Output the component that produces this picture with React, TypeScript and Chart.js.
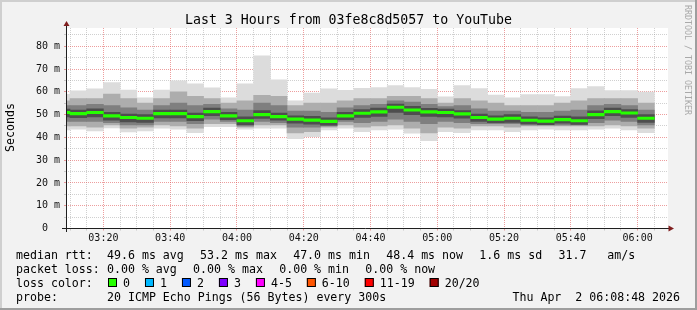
import { useEffect, useRef } from 'react';
import { Chart, registerables } from 'chart.js';

Chart.register(...registerables);

// ---------------- data ----------------
const TITLE = 'Last 3 Hours from 03fe8c8d5057 to YouTube';
const Y_LABEL = 'Seconds';
const WATERMARK = 'RRDTOOL / TOBI OETIKER';
const WINDOW_END = '06:08:48';
const WINDOW_MINUTES = 180;
const STEP_MINUTES = 5;

const slotStart = [
  '03:05', '03:10', '03:15', '03:20', '03:25', '03:30', '03:35', '03:40', '03:45',
  '03:50', '03:55', '04:00', '04:05', '04:10', '04:15', '04:20', '04:25', '04:30',
  '04:35', '04:40', '04:45', '04:50', '04:55', '05:00', '05:05', '05:10', '05:15',
  '05:20', '05:25', '05:30', '05:35', '05:40', '05:45', '05:50', '05:55', '06:00',
];

// round-trip times in ms, per 5-minute slot
const rttMax = [58.9, 60.4, 61.3, 64.0, 60.8, 57.3, 60.8, 64.8, 63.5, 61.7, 57.3, 63.5, 75.8, 65.2, 56.0, 59.4, 61.3, 60.6, 61.5, 61.8, 62.7, 61.8, 61.1, 57.8, 62.7, 61.4, 58.6, 57.4, 58.8, 58.8, 57.9, 61.4, 62.3, 60.5, 60.5, 59.9];
const rttP90 = [56, 57, 57, 59, 57, 55, 57, 60, 58, 57, 55, 56, 58.5, 58, 54, 55, 55, 56, 57, 57, 58, 58, 57, 55, 57, 56, 55, 54, 54, 54, 55, 56, 57, 57, 57, 55];
const rttP75 = [54, 54, 54.5, 54, 53, 52, 54, 55, 54, 54.5, 52.5, 52, 55, 54, 51.5, 51.5, 51, 53, 54, 54.5, 56, 55.5, 54.5, 53.5, 54, 52.5, 51.5, 51.5, 51, 51, 51.5, 52, 54, 54.5, 54, 52];
const rttP60 = [52.4, 52, 52.5, 51, 50.2, 50, 52, 52, 50.7, 52.8, 51, 49, 51.8, 50.7, 49.5, 49.2, 48.6, 51, 52.2, 52.8, 54.6, 53.6, 52.7, 52.4, 51.8, 50.2, 49.5, 50, 49, 48.6, 49.3, 49, 51.6, 52.8, 52.2, 50];
const rttMedian = [50.9, 50.4, 50.9, 49.4, 48.7, 48.4, 50.4, 50.4, 49.1, 51.3, 49.4, 47.3, 50.0, 49.1, 48.0, 47.6, 47.0, 49.4, 50.6, 51.2, 53.2, 52.0, 51.2, 50.9, 50.3, 48.7, 48.0, 48.4, 47.5, 47.1, 47.8, 47.3, 50.0, 51.3, 50.7, 48.4];
const rttP40 = [49, 48.6, 49, 47.5, 46.8, 46.6, 48.5, 48.5, 47.3, 49.5, 47.8, 45.6, 48.3, 47.5, 46.2, 45.8, 45.3, 47.8, 48.7, 49.2, 51, 50, 49.2, 49, 48.4, 47, 46.4, 46.6, 45.9, 45.6, 46.2, 45.7, 48.2, 49.5, 48.8, 46.6];
const rttP25 = [47, 47, 47, 46.5, 45.5, 45.5, 47, 47, 46, 48, 47, 45, 47, 46.5, 44.5, 44.5, 45, 47, 46.5, 47, 48, 47, 46, 47, 46.5, 46, 46, 46, 45.5, 45.5, 45.5, 45.5, 46.5, 47.5, 47, 45.5];
const rttP10 = [45, 45, 44.5, 45.5, 44, 44.5, 45.5, 45, 44, 46, 46, 44.5, 45.5, 45.5, 42, 42.5, 44.5, 45.5, 44.5, 45, 45.5, 44, 42, 44.5, 44, 45, 45, 44.5, 45, 45, 45, 45, 45, 45.5, 45, 44];
const rttMin = [43.3, 43.6, 42.8, 44.1, 42.4, 42.8, 44.0, 43.6, 42.1, 44.7, 44.7, 43.6, 44.0, 44.0, 39.4, 40.3, 43.3, 44.0, 42.5, 43.3, 43.6, 41.8, 38.6, 42.5, 42.1, 43.3, 43.3, 42.5, 43.3, 43.6, 43.3, 43.3, 43.6, 44.0, 43.3, 42.1];

const Y_MAX = 88;
const yTickValues = [0, 10, 20, 30, 40, 50, 60, 70, 80];
const yTickLabels = ['0  ', '10 m', '20 m', '30 m', '40 m', '50 m', '60 m', '70 m', '80 m'];
const xTickLabels = ['03:20', '03:40', '04:00', '04:20', '04:40', '05:00', '05:20', '05:40', '06:00'];

const rttHeading = 'median rtt:';
const rttStats = ['49.6 ms avg', '53.2 ms max', '47.0 ms min', '48.4 ms now', '1.6 ms sd', '31.7   am/s'];
const lossHeading = 'packet loss:';
const lossStats = ['0.00 % avg', '0.00 % max', '0.00 % min', '0.00 % now'];
const colorHeading = 'loss color:';
const lossLabels = ['0', '1', '2', '3', '4-5', '6-10', '11-19', '20/20'];
const lossColors = ['#26ff00', '#00b8ff', '#0059ff', '#7e00ff', '#ff00ff', '#ff5500', '#ff0000', '#a10000'];
const probeHeading = 'probe:';
const probeText = '20 ICMP Echo Pings (56 Bytes) every 300s';
const stampText = 'Thu Apr  2 06:08:48 2026';

// ---------------- helpers ----------------
const MONO = "'DejaVu Sans Mono', monospace";
const W = 697;
const H = 310;

function toMinutes(t: string) {
  const [h, m, s] = t.split(':').map(Number);
  return h * 60 + m + (s || 0) / 60;
}
function fmt(mins: number) {
  const h = Math.floor(mins / 60);
  const m = Math.round(mins - h * 60);
  return `${String(h).padStart(2, '0')}:${String(m).padStart(2, '0')}`;
}

const xMax = toMinutes(WINDOW_END);
const xMin = xMax - WINDOW_MINUTES;
const centers = slotStart.map((t) => toMinutes(t) + STEP_MINUTES / 2);
const floating = (lo: number[], hi: number[]) => centers.map((x, i) => ({ x, y: [lo[i], hi[i]] }));
const MEDIAN_HALF = 0.55;
const medianBand = centers.map((x, i) => ({ x, y: [rttMedian[i] - MEDIAN_HALF, rttMedian[i] + MEDIAN_HALF] }));

const MINOR = 'rgba(143,143,143,0.42)';
const MAJOR = 'rgba(222,79,79,0.55)';
const AXIS = '#1f1f1f';
const ARROW = '#801f1f';

const decor = {
  id: 'rrdDecor',
  beforeDraw(chart: any) {
    const { ctx, chartArea: a } = chart;
    ctx.save();
    ctx.fillStyle = '#f2f2f2';
    ctx.fillRect(0, 0, W, H);
    ctx.fillStyle = '#cfcfcf';
    ctx.fillRect(0, 0, W, 2);
    ctx.fillRect(0, 0, 2, H);
    ctx.fillStyle = '#9e9e9e';
    ctx.fillRect(0, H - 2, W, 2);
    ctx.fillRect(W - 2, 0, 2, H);
    ctx.fillStyle = '#ffffff';
    ctx.fillRect(a.left, a.top, a.right - a.left + 1, a.bottom - a.top);
    ctx.restore();
  },
  afterDatasetsDraw(chart: any) {
    const { ctx, chartArea: a } = chart;
    const x0 = Math.floor(a.left) + 0.5;
    const y0 = Math.floor(a.bottom) + 0.5;
    ctx.save();
    ctx.strokeStyle = AXIS;
    ctx.lineWidth = 1;
    ctx.beginPath();
    ctx.moveTo(x0, y0 + 3.5);
    ctx.lineTo(x0, a.top - 3);
    ctx.moveTo(x0 - 4.5, y0);
    ctx.lineTo(a.right + 2, y0);
    ctx.stroke();
    ctx.fillStyle = ARROW;
    ctx.beginPath();
    ctx.moveTo(x0, a.top - 7);
    ctx.lineTo(x0 - 3, a.top - 2);
    ctx.lineTo(x0 + 3, a.top - 2);
    ctx.closePath();
    ctx.fill();
    ctx.beginPath();
    ctx.moveTo(a.right + 7, y0);
    ctx.lineTo(a.right + 1.5, y0 - 3);
    ctx.lineTo(a.right + 1.5, y0 + 3);
    ctx.closePath();
    ctx.fill();
    ctx.restore();
  },
  afterDraw(chart: any) {
    const { ctx } = chart;
    ctx.save();
    ctx.fillStyle = '#000';
    ctx.textBaseline = 'alphabetic';
    // title
    ctx.font = `13.25px ${MONO}`;
    ctx.textAlign = 'center';
    ctx.fillText(TITLE, W / 2, 24);
    // y label
    ctx.save();
    ctx.font = `11.6px ${MONO}`;
    ctx.translate(14, 127.5);
    ctx.rotate(-Math.PI / 2);
    ctx.textAlign = 'center';
    ctx.fillText(Y_LABEL, 0, 0);
    ctx.restore();
    // watermark
    ctx.save();
    ctx.font = `8.3px ${MONO}`;
    ctx.fillStyle = '#a9a9a9';
    ctx.translate(684.5, 60);
    ctx.rotate(Math.PI / 2);
    ctx.textAlign = 'center';
    ctx.fillText(WATERMARK, 0, 0);
    ctx.restore();
    // legend
    ctx.font = `11.6px ${MONO}`;
    ctx.textAlign = 'left';
    const L = 16;
    const V = 107;
    const GAP = 16.3;
    const rows = [258.5, 272.5, 286.5, 300.5];
    const seq = (items: string[], y: number) => {
      let x = V;
      items.forEach((s) => {
        ctx.fillText(s, x, y);
        x += ctx.measureText(s).width + GAP;
      });
    };
    ctx.fillText(rttHeading, L, rows[0]);
    seq(rttStats, rows[0]);
    ctx.fillText(lossHeading, L, rows[1]);
    seq(lossStats, rows[1]);
    ctx.fillText(colorHeading, L, rows[2]);
    let bx = 108;
    lossLabels.forEach((lab, i) => {
      ctx.fillStyle = lossColors[i];
      ctx.fillRect(bx, 278, 9, 9);
      ctx.strokeStyle = '#000';
      ctx.lineWidth = 1;
      ctx.strokeRect(bx + 0.5, 278.5, 8, 8);
      ctx.fillStyle = '#000';
      ctx.fillText(lab, bx + 15, rows[2]);
      bx = bx + 15 + ctx.measureText(lab).width + 15;
    });
    ctx.fillText(probeHeading, L, rows[3]);
    ctx.fillText(probeText, V, rows[3]);
    ctx.textAlign = 'right';
    ctx.fillText(stampText, 680, rows[3]);
    ctx.restore();
  },
};

const barBase = {
  type: 'bar' as const,
  grouped: false,
  barPercentage: 1,
  categoryPercentage: 1,
  borderWidth: 0,
  clip: 0,
};

export default function App() {
  const ref = useRef<HTMLCanvasElement>(null);
  useEffect(() => {
    document.body.style.margin = '0';
    const canvas = ref.current!;
    const chart = new Chart(canvas, {
      type: 'bar',
      data: {
        datasets: [
          { ...barBase, label: 'median', data: medianBand, backgroundColor: lossColors[0] },
          { ...barBase, label: 'p40-p60', data: floating(rttP40, rttP60), backgroundColor: '#4e4e4e' },
          { ...barBase, label: 'p25-p75', data: floating(rttP25, rttP75), backgroundColor: '#7f7f7f' },
          { ...barBase, label: 'p10-p90', data: floating(rttP10, rttP90), backgroundColor: '#adadad' },
          { ...barBase, label: 'min-max', data: floating(rttMin, rttMax), backgroundColor: '#dcdcdc' },
        ] as any,
      },
      options: {
        responsive: false,
        devicePixelRatio: 1,
        animation: false,
        events: [],
        layout: { padding: { top: 28, right: 30, bottom: 0, left: 0 } },
        plugins: { legend: { display: false }, tooltip: { enabled: false }, title: { display: false } },
        scales: {
          x: {
            type: 'linear',
            min: xMin,
            max: xMax,
            offset: false,
            afterFit: (s: any) => { s.height = H - 228.5; },
            afterBuildTicks: (s: any) => {
              const t = [];
              for (let v = Math.ceil(xMin / STEP_MINUTES) * STEP_MINUTES; v < xMax; v += STEP_MINUTES) t.push({ value: v });
              s.ticks = t;
            },
            grid: {
              offset: false,
              drawTicks: true,
              tickLength: 2,
              lineWidth: 1,
              color: (c: any) => (xTickLabels.includes(fmt(c.tick?.value ?? 0)) ? MAJOR : MINOR),
              tickColor: (c: any) => (xTickLabels.includes(fmt(c.tick?.value ?? 0)) ? MAJOR : MINOR),
              tickBorderDash: [],
            },
            border: { display: false, dash: [1, 1] },
            ticks: {
              autoSkip: false,
              maxRotation: 0,
              minRotation: 0,
              padding: 1.5,
              color: '#111',
              font: { family: MONO, size: 10 },
              callback: (v: any) => (xTickLabels.includes(fmt(Number(v))) ? fmt(Number(v)) : ''),
            },
          },
          y: {
            type: 'linear',
            min: 0,
            max: Y_MAX,
            afterFit: (s: any) => { s.width = 66; },
            afterBuildTicks: (s: any) => {
              const t = [];
              for (let v = 0; v < Y_MAX; v += 5) t.push({ value: v });
              s.ticks = t;
            },
            grid: {
              drawTicks: true,
              tickLength: 2,
              lineWidth: 1,
              color: (c: any) => (yTickValues.includes(c.tick?.value) ? MAJOR : MINOR),
              tickColor: (c: any) => (yTickValues.includes(c.tick?.value) ? MAJOR : MINOR),
              tickBorderDash: [],
            },
            border: { display: false, dash: [1, 1] },
            ticks: {
              autoSkip: false,
              padding: 4,
              color: '#111',
              font: { family: MONO, size: 10 },
              callback: (v: any) => {
                const i = yTickValues.indexOf(Number(v));
                return i >= 0 ? yTickLabels[i] : '';
              },
            },
          },
        },
      } as any,
      plugins: [decor],
    });
    return () => chart.destroy();
  }, []);
  return (
    <div style={{ position: 'fixed', left: 0, top: 0, width: W, height: H }}>
      <canvas ref={ref} width={W} height={H} style={{ display: 'block', width: W, height: H }} />
    </div>
  );
}
